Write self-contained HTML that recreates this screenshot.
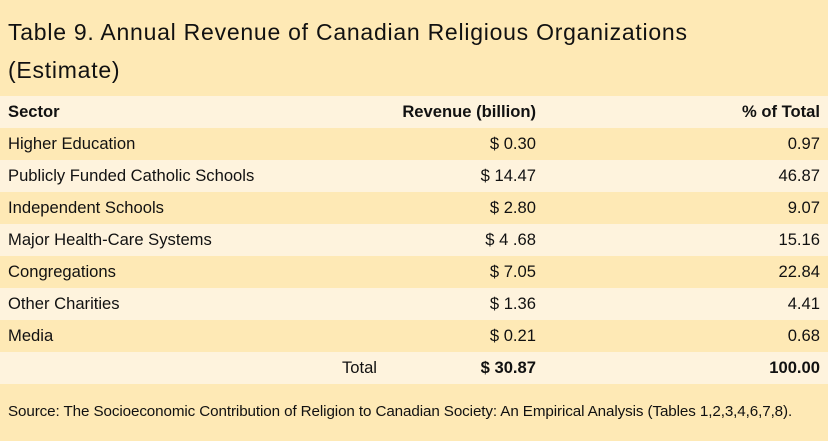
<!DOCTYPE html>
<html><head><meta charset="utf-8"><style>
html,body{margin:0;padding:0;}
body{width:828px;height:441px;background:#fee9b5;font-family:"Liberation Sans",sans-serif;color:#111;overflow:hidden;position:relative;}
.title{position:absolute;left:8px;top:13px;font-size:23px;line-height:38px;letter-spacing:0.75px;}
.row{position:absolute;left:0;width:828px;height:32px;font-size:16.6px;}
.row div{position:absolute;top:0;line-height:32px;}
.light{background:#fef3dd;}
.c1{left:8px;}
.c2{right:292px;text-align:right;}
.c3{right:8px;text-align:right;}
.b{font-weight:bold;}
.src{position:absolute;left:8px;top:403px;font-size:15.2px;letter-spacing:-0.1px;}
</style></head><body>
<div class="title">Table 9. Annual Revenue of Canadian Religious Organizations<br>(Estimate)</div>
<div class="row light b" style="top:96px"><div class="c1">Sector</div><div class="c2">Revenue (billion)</div><div class="c3">% of Total</div></div>
<div id="rows"></div>
<div class="row light" style="top:352px"><div style="right:451px">Total</div><div class="c2 b">$ 30.87</div><div class="c3 b">100.00</div></div>
<div class="src">Source: The Socioeconomic Contribution of Religion to Canadian Society: An Empirical Analysis (Tables 1,2,3,4,6,7,8).</div>
<script>
const sectors=["Higher Education","Publicly Funded Catholic Schools","Independent Schools","Major Health-Care Systems","Congregations","Other Charities","Media"];
const revenues=["$ 0.30","$ 14.47","$ 2.80","$ 4 .68","$ 7.05","$ 1.36","$ 0.21"];
const percents=["0.97","46.87","9.07","15.16","22.84","4.41","0.68"];
const host=document.getElementById('rows');
sectors.forEach((s,i)=>{
  const r=document.createElement('div');
  r.className='row'+(i%2?' light':'');
  r.style.top=(128+i*32)+'px';
  
  
  r.innerHTML='<div class="c1"></div><div class="c2"></div><div class="c3"></div>';
  r.children[0].textContent=s;
  r.children[1].textContent=revenues[i];
  r.children[2].textContent=percents[i];
  host.appendChild(r);
});
</script>
</body></html>
